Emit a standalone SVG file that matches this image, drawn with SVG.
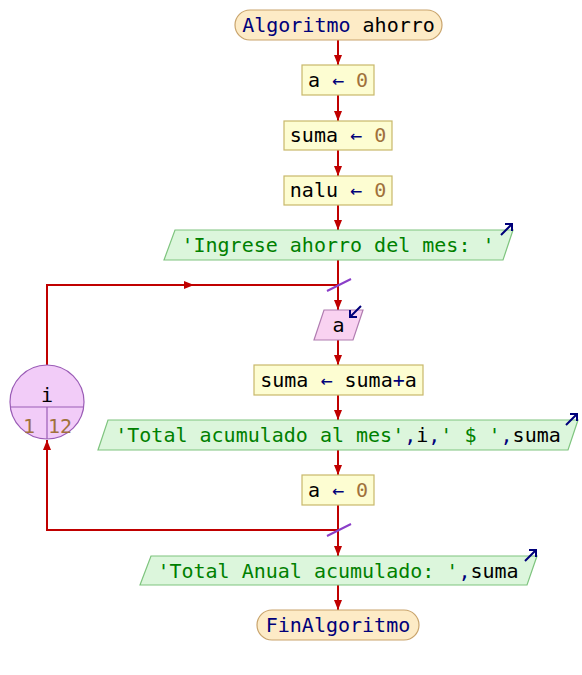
<svg xmlns="http://www.w3.org/2000/svg" width="582" height="675" viewBox="0 0 582 675">
  <style>
    text { font-family: "DejaVu Sans Mono", "Liberation Mono", monospace; font-size: 20px; fill: #000; }
    .kw { fill: #00007a; }
    .num { fill: #a0713c; }
    .str { fill: #008000; }
    .term { fill: #fdebc6; stroke: #c9a46c; stroke-width: 1.2; }
    .proc { fill: #fdfdd2; stroke: #c8b86a; stroke-width: 1.2; }
    .out { fill: #dcf6dc; stroke: #7ec47e; stroke-width: 1.2; }
    .in { fill: #f9d2f1; stroke: #b07cb0; stroke-width: 1.2; }
    .loop { fill: #f2ccf8; stroke: #9a5cb6; stroke-width: 1.2; }
    .wire { fill: none; stroke: #c00000; stroke-width: 2; }
    .head { fill: #c00000; }
    .tick { stroke: #8a3ec8; stroke-width: 2; }
    .io { fill: none; stroke: #00007a; stroke-width: 2; }
  </style>
  <defs>
    <marker id="ah" viewBox="0 0 10 8" refX="10" refY="4" markerWidth="10" markerHeight="8" markerUnits="userSpaceOnUse" orient="auto">
      <path d="M0,0 L10,4 L0,8 Z" class="head"/>
    </marker>
  </defs>

  <!-- connectors -->
  <g id="connectors">
    <path class="wire" d="M338,40 V65" marker-end="url(#ah)"/>
    <path class="wire" d="M338,95 V121" marker-end="url(#ah)"/>
    <path class="wire" d="M338,150 V176" marker-end="url(#ah)"/>
    <path class="wire" d="M338,205 V230" marker-end="url(#ah)"/>
    <path class="wire" d="M338,260 V310" marker-end="url(#ah)"/>
    <path class="wire" d="M338,340 V365" marker-end="url(#ah)"/>
    <path class="wire" d="M338,395 V420" marker-end="url(#ah)"/>
    <path class="wire" d="M338,450 V475" marker-end="url(#ah)"/>
    <path class="wire" d="M338,505 V556" marker-end="url(#ah)"/>
    <path class="wire" d="M338,585 V610" marker-end="url(#ah)"/>
    <!-- loop return: bottom of body back into the counter -->
    <path class="wire" d="M338,530 H47 V440" marker-end="url(#ah)"/>
    <!-- loop entry: counter up and across into the body -->
    <path class="wire" d="M47,365 V285 H338"/>
    <path class="wire" d="M47,285 H194" marker-end="url(#ah)"/>
    <line class="tick" x1="327" y1="291" x2="351" y2="279"/>
    <line class="tick" x1="327" y1="536" x2="351" y2="524"/>
  </g>

  <g id="start">
    <rect class="term" x="235" y="10" width="207" height="30" rx="15"/>
    <text x="338.5" y="32" text-anchor="middle"><tspan class="kw">Algoritmo</tspan> ahorro</text>
  </g>

  <g id="assign-a">
    <rect class="proc" x="302" y="65" width="72" height="30"/>
    <text x="338" y="87" text-anchor="middle">a <tspan class="kw">←</tspan> <tspan class="num">0</tspan></text>
  </g>

  <g id="assign-suma">
    <rect class="proc" x="284" y="121" width="108" height="29"/>
    <text x="338" y="142" text-anchor="middle">suma <tspan class="kw">←</tspan> <tspan class="num">0</tspan></text>
  </g>

  <g id="assign-nalu">
    <rect class="proc" x="284" y="176" width="108" height="29"/>
    <text x="338" y="197" text-anchor="middle">nalu <tspan class="kw">←</tspan> <tspan class="num">0</tspan></text>
  </g>

  <g id="write-prompt">
    <polygon class="out" points="175,230 513,230 503,260 164,260"/>
    <text x="338" y="252" text-anchor="middle"><tspan class="str">'Ingrese ahorro del mes: '</tspan></text>
    <path class="io" d="M501,235 L512,224 M505,224 H512 V231"/>
  </g>

  <g id="read-a">
    <polygon class="in" points="324,310 363,310 353,340 314,340"/>
    <text x="338.5" y="332" text-anchor="middle">a</text>
    <path class="io" d="M361,306 L350,317 M350,310 V317 H357"/>
  </g>

  <g id="loop-i">
    <circle class="loop" cx="47" cy="402" r="37"/>
    <path class="loop" d="M10.5,407 H83.5 M47,407 V439" fill="none"/>
    <text x="47" y="402" text-anchor="middle">i</text>
    <text x="29" y="433" text-anchor="middle" class="num">1</text>
    <text x="60" y="433" text-anchor="middle" class="num">12</text>
  </g>

  <g id="accumulate">
    <rect class="proc" x="254" y="365" width="169" height="30"/>
    <text x="338.5" y="387" text-anchor="middle">suma <tspan class="kw">←</tspan> suma<tspan class="kw">+</tspan>a</text>
  </g>

  <g id="write-month">
    <polygon class="out" points="108,420 578,420 568,450 98,450"/>
    <text x="338" y="442" text-anchor="middle"><tspan class="str">'Total acumulado al mes'</tspan><tspan class="kw">,</tspan>i<tspan class="kw">,</tspan><tspan class="str">' $ '</tspan><tspan class="kw">,</tspan>suma</text>
    <path class="io" d="M566,425 L577,414 M570,414 H577 V421"/>
  </g>

  <g id="reset-a">
    <rect class="proc" x="302" y="475" width="72" height="30"/>
    <text x="338" y="497" text-anchor="middle">a <tspan class="kw">←</tspan> <tspan class="num">0</tspan></text>
  </g>

  <g id="write-total">
    <polygon class="out" points="151,556 537,556 527,585 140,585"/>
    <text x="338" y="578" text-anchor="middle"><tspan class="str">'Total Anual acumulado: '</tspan><tspan class="kw">,</tspan>suma</text>
    <path class="io" d="M525,561 L536,550 M529,550 H536 V557"/>
  </g>

  <g id="end">
    <rect class="term" x="257" y="610" width="162" height="30" rx="15"/>
    <text x="338" y="632" text-anchor="middle" class="kw">FinAlgoritmo</text>
  </g>
</svg>
